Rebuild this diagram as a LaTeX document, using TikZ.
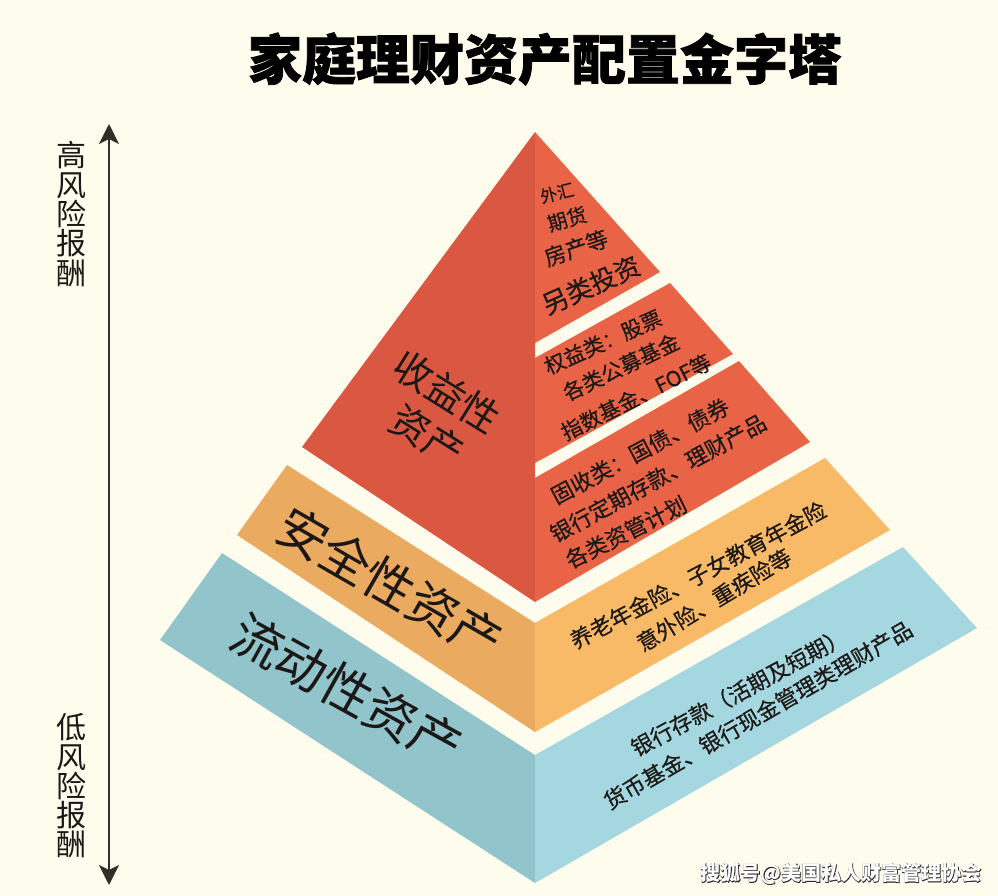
\documentclass[tikz,border=0pt]{standalone}
\usepackage{fontspec}
\setmainfont{Noto Sans CJK SC}
\newfontfamily\titlefont{Noto Sans CJK SC}[BoldFeatures={FakeBold=1.4}]
\newfontfamily\bodyfont{Noto Sans CJK SC}[FakeBold=0.4]
\newfontfamily\wmfont{Noto Sans CJK SC}[BoldFeatures={FakeBold=3.5}]
\usetikzlibrary{arrows.meta}
\definecolor{bgc}{RGB}{254,252,236}
\definecolor{redL}{RGB}{218,88,66}
\definecolor{redR}{RGB}{233,100,70}
\definecolor{orL}{RGB}{234,170,96}
\definecolor{orR}{RGB}{249,186,104}
\definecolor{blL}{RGB}{146,196,204}
\definecolor{blR}{RGB}{164,215,224}
\definecolor{txtc}{RGB}{28,24,22}
\definecolor{arrc}{RGB}{50,46,40}
\definecolor{wmdark}{RGB}{40,40,40}
\newcommand\outlinedtext[1]{\rlap{\wmfont\bfseries\color{wmdark}#1}{\bfseries\color{white}#1}}
\begin{document}
\begin{tikzpicture}[x=1pt,y=-1pt,
  lbl/.style={inner sep=0pt, text=txtc, font=\bodyfont\fontsize{22}{22}\selectfont},
  biglbl/.style={inner sep=0pt, text=txtc},
  vlbl/.style={inner sep=0pt, text=txtc, align=center, font=\fontsize{30}{29.3}\selectfont},
  axisarrow/.style={line width=2.6pt, draw=arrc, {Stealth[length=20pt,width=20pt,inset=5pt]}-{Stealth[length=20pt,width=20pt,inset=5pt]}}
]
\fill[bgc] (0,0) rectangle (998,896);
\useasboundingbox (0,0) rectangle (998,896);

% blue layer
\fill[blL] (222,553) -- (535,755) -- (535,883) -- (160,640) -- cycle;
\fill[blR] (535,755) -- (903,547) -- (977,628) -- (535,883) -- cycle;
% orange layer
\fill[orL] (287,465) -- (535,623) -- (535,732) -- (237,535) -- cycle;
\fill[orR] (535,623) -- (825,458) -- (890,530) -- (535,732) -- cycle;
% red pyramid
\fill[redL] (535,132) -- (302,447) -- (535,602) -- cycle;
\fill[redR] (535,132) -- (660,272) -- (535,343) -- cycle;
\fill[redR] (535,358) -- (670,283) -- (733,354) -- (535,463) -- cycle;
\fill[redR] (535,478) -- (739,361) -- (810,442) -- (535,602) -- cycle;

% title
\node[inner sep=0pt, text=black, font=\titlefont\fontsize{54}{54}\selectfont\bfseries] (title) at (545,59) {家庭理财资产配置金字塔};

% axis
\coordinate (atop) at (109,124);
\coordinate (abot) at (109,885);
\draw[axisarrow] (atop) -- (abot);
\node[vlbl] (high) at (71,214) {高\\风\\险\\报\\酬};
\node[vlbl] (low) at (71,786) {低\\风\\险\\报\\酬};

% left face labels
\node[biglbl, font=\fontsize{39}{39}\selectfont, rotate=-32] (sy1) at (447,392) {收益性};
\node[biglbl, font=\fontsize{39}{39}\selectfont, rotate=-32] (sy2) at (427,436) {资产};
\node[biglbl, font=\fontsize{50}{50}\selectfont, rotate=-30] (aq) at (390,583) {安全性资产};
\node[biglbl, font=\fontsize{51}{51}\selectfont, rotate=-29] (ld) at (347,690) {流动性资产};

% top band
\node[lbl, font=\bodyfont\fontsize{17}{17}\selectfont, rotate=14] (t1) at (557,193) {外汇};
\node[lbl, font=\bodyfont\fontsize{20}{20}\selectfont, rotate=16] (t2) at (567,219) {期货};
\node[lbl, font=\bodyfont\fontsize{22}{22}\selectfont, rotate=19] (t3) at (576,248) {房产等};
\node[lbl, font=\bodyfont\fontsize{26}{26}\selectfont, rotate=24] (t4) at (591,285) {另类投资};

% middle band
\node[lbl, font=\bodyfont\fontsize{21}{21}\selectfont, rotate=24] (m1) at (603,342) {权益类：股票};
\node[lbl, font=\bodyfont\fontsize{21}{21}\selectfont, rotate=25.5] (m2) at (621,367) {各类公募基金};
\node[lbl, font=\bodyfont\fontsize{21}{21}\selectfont, rotate=26.5] (m3) at (636,397) {指数基金、FOF等};

% bottom red band
\node[lbl, rotate=28] (b1) at (640,451) {固收类：国债、债券};
\node[lbl, rotate=28.5] (b2) at (658,478) {银行定期存款、理财产品};
\node[lbl, rotate=26.5] (b3) at (626,532) {各类资管计划};

% orange right
\node[lbl, rotate=28] (o1) at (698,575) {养老年金险、子女教育年金险};
\node[lbl, rotate=31] (o2) at (714,600) {意外险、重疾险等};

% blue right
\node[lbl, rotate=28.5] (l1) at (739,692) {银行存款（活期及短期）};
\node[lbl, rotate=30] (l2) at (758,715) {货币基金、银行现金管理类理财产品};

% watermark
\node[inner sep=0pt, font=\fontsize{20}{20}\selectfont] (wm) at (841,874) {\outlinedtext{搜狐号@美国私人财富管理协会}};
\end{tikzpicture}
\end{document}
